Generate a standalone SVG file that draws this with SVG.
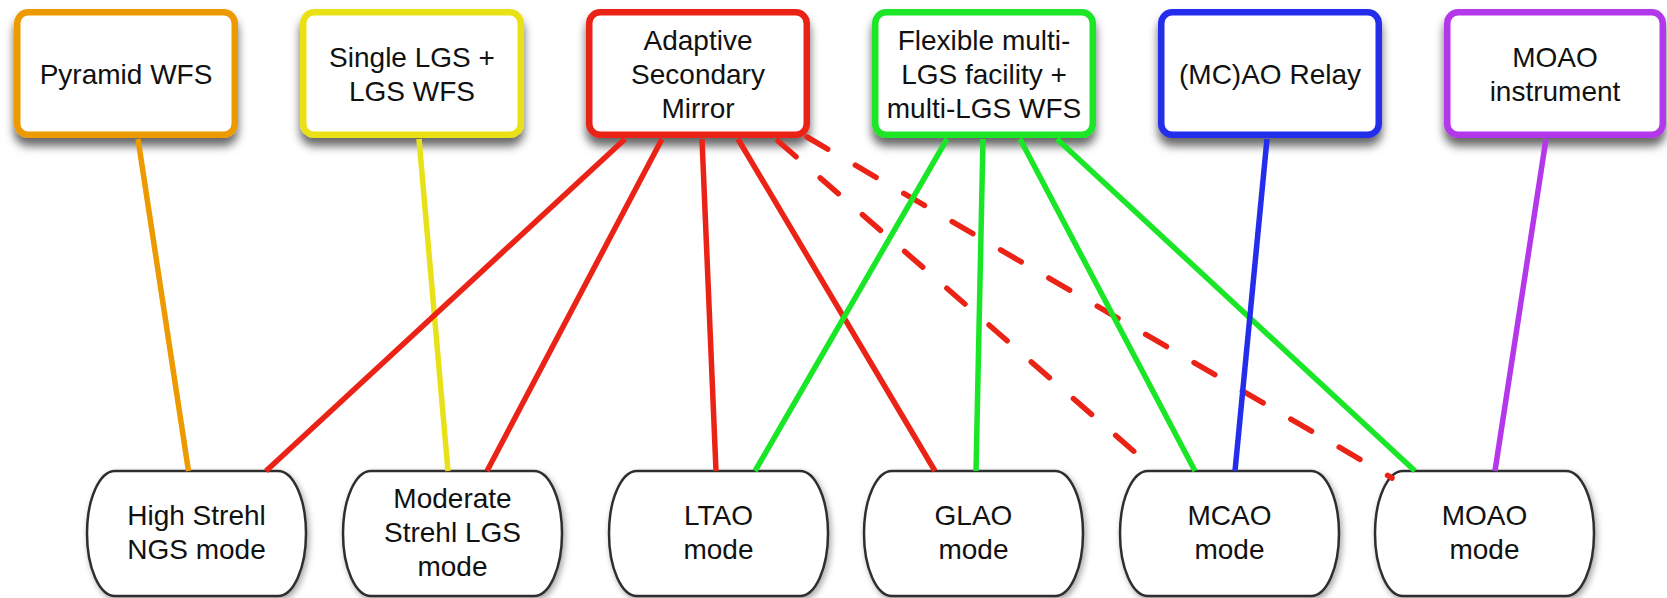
<svg xmlns="http://www.w3.org/2000/svg" width="1667" height="598" viewBox="0 0 1667 598">
<defs>
<filter id="sh" x="-10%" y="-10%" width="125%" height="140%">
<feDropShadow dx="0" dy="8" stdDeviation="5" flood-color="#000" flood-opacity="0.6"/>
</filter>
<filter id="sh2" x="-10%" y="-10%" width="125%" height="140%">
<feDropShadow dx="2" dy="3" stdDeviation="3" flood-color="#000" flood-opacity="0.35"/>
</filter>
</defs>
<style>
.top{fill:#fff;stroke-width:6.5;filter:url(#sh)}
.bot{fill:#fff;stroke:#2e2e2e;stroke-width:2.5;filter:url(#sh2)}
text{font-family:"Liberation Sans",Arial,sans-serif;font-size:28px;fill:#111;text-anchor:middle}
.c{fill:none;stroke-width:5.5}
.dash{stroke-dasharray:24 32;stroke-linecap:round}
</style>
<rect width="1667" height="598" fill="#fff"/>
<g id="pyramid-wfs"><rect class="top" x="17.25" y="12.25" width="217.5" height="122.5" rx="11" stroke="#ED9A00"/><text x="126" y="83.5">Pyramid WFS</text></g>
<g id="single-lgs"><rect class="top" x="303.25" y="12.25" width="217.5" height="122.5" rx="11" stroke="#E9E118"/><text x="412" y="66.5">Single LGS +</text><text x="412" y="100.5">LGS WFS</text></g>
<g id="asm"><rect class="top" x="589.25" y="12.25" width="217.5" height="122.5" rx="11" stroke="#EB2316"/><text x="698" y="49.5">Adaptive</text><text x="698" y="83.5">Secondary</text><text x="698" y="117.5">Mirror</text></g>
<g id="flexible-lgs"><rect class="top" x="875.25" y="12.25" width="217.5" height="122.5" rx="11" stroke="#1AE628"/><text x="984" y="49.5">Flexible multi-</text><text x="984" y="83.5">LGS facility +</text><text x="984" y="117.5">multi-LGS WFS</text></g>
<g id="mcao-relay"><rect class="top" x="1161.25" y="12.25" width="217.5" height="122.5" rx="11" stroke="#232DEB"/><text x="1270" y="83.5">(MC)AO Relay</text></g>
<g id="moao-instrument"><rect class="top" x="1447.25" y="12.25" width="215.5" height="122.5" rx="11" stroke="#B437EB"/><text x="1555" y="66.5">MOAO</text><text x="1555" y="100.5">instrument</text></g>

<g id="high-strehl"><path class="bot" d="M115,471 H278 A28 62.5 0 0 1 278,596 H115 A28 62.5 0 0 1 115,471 Z"/><text x="196.5" y="525">High Strehl</text><text x="196.5" y="559">NGS mode</text></g>
<g id="moderate-strehl"><path class="bot" d="M371,471 H534 A28 62.5 0 0 1 534,596 H371 A28 62.5 0 0 1 371,471 Z"/><text x="452.5" y="508">Moderate</text><text x="452.5" y="542">Strehl LGS</text><text x="452.5" y="576">mode</text></g>
<g id="ltao"><path class="bot" d="M637,471 H800 A28 62.5 0 0 1 800,596 H637 A28 62.5 0 0 1 637,471 Z"/><text x="718.5" y="525">LTAO</text><text x="718.5" y="559">mode</text></g>
<g id="glao"><path class="bot" d="M892,471 H1055 A28 62.5 0 0 1 1055,596 H892 A28 62.5 0 0 1 892,471 Z"/><text x="973.5" y="525">GLAO</text><text x="973.5" y="559">mode</text></g>
<g id="mcao"><path class="bot" d="M1148,471 H1311 A28 62.5 0 0 1 1311,596 H1148 A28 62.5 0 0 1 1148,471 Z"/><text x="1229.5" y="525">MCAO</text><text x="1229.5" y="559">mode</text></g>
<g id="moao"><path class="bot" d="M1403,471 H1566 A28 62.5 0 0 1 1566,596 H1403 A28 62.5 0 0 1 1403,471 Z"/><text x="1484.5" y="525">MOAO</text><text x="1484.5" y="559">mode</text></g>

<g id="connectors">
<line class="c" x1="138" y1="139" x2="188.5" y2="471" stroke="#ED9A00"/>
<line class="c" x1="419" y1="139" x2="448" y2="471" stroke="#E9E118"/>
<line class="c" x1="625" y1="139" x2="266" y2="471" stroke="#EB2316"/>
<line class="c" x1="662" y1="139" x2="487" y2="471" stroke="#EB2316"/>
<line class="c" x1="702" y1="139" x2="716" y2="471" stroke="#EB2316"/>
<line class="c" x1="738" y1="139" x2="935" y2="471" stroke="#EB2316"/>
<line class="c dash" x1="778" y1="141" x2="1153" y2="468" stroke="#EB2316"/>
<line class="c dash" x1="807" y1="137" x2="1392" y2="478" stroke="#EB2316"/>
<line class="c" x1="947" y1="139" x2="755" y2="471" stroke="#1AE628"/>
<line class="c" x1="983" y1="139" x2="976" y2="471" stroke="#1AE628"/>
<line class="c" x1="1020" y1="139" x2="1195" y2="471" stroke="#1AE628"/>
<line class="c" x1="1057" y1="139" x2="1415" y2="471" stroke="#1AE628"/>
<line class="c" x1="1267" y1="139" x2="1235" y2="471" stroke="#232DEB"/>
<line class="c" x1="1546" y1="139" x2="1495" y2="471" stroke="#B437EB"/>
</g>
</svg>
